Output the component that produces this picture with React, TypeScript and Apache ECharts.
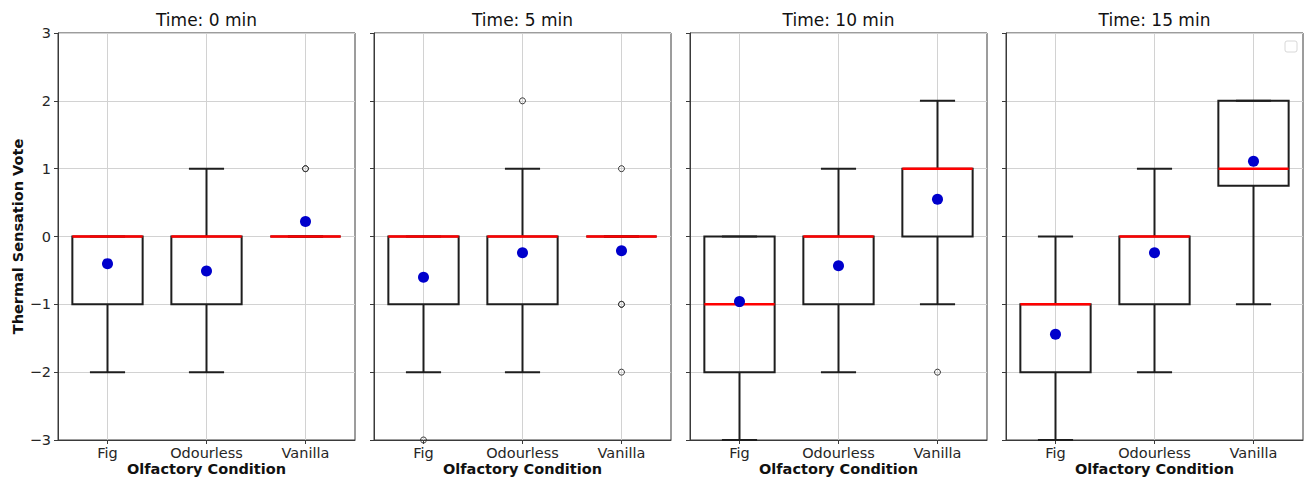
import React, { useEffect, useRef } from "react";
import * as echarts from "echarts";

const categories = ["Fig", "Odourless", "Vanilla"];
const panelTitles = ["Time: 0 min", "Time: 5 min", "Time: 10 min", "Time: 15 min"];
const xAxisTitle = "Olfactory Condition";
const yAxisTitle = "Thermal Sensation Vote";
const yMin = -3;
const yMax = 3;

// [lower whisker, Q1, median, Q3, upper whisker] per category
const box0 = [[-2, -1, 0, 0, 0], [-2, -1, 0, 0, 1], [0, 0, 0, 0, 0]];
const box5 = [[-2, -1, 0, 0, 0], [-2, -1, 0, 0, 1], [0, 0, 0, 0, 0]];
const box10 = [[-3, -2, -1, 0, 0], [-2, -1, 0, 0, 1], [-1, 0, 1, 1, 2]];
const box15 = [[-3, -2, -1, -1, 0], [-2, -1, 0, 0, 1], [-1, 0.75, 1, 2, 2]];

const mean0 = [-0.4, -0.51, 0.22];
const mean5 = [-0.6, -0.24, -0.21];
const mean10 = [-0.96, -0.43, 0.55];
const mean15 = [-1.44, -0.24, 1.11];

// [category index, value]
const out0 = [[2, 1], [2, 1]];
const out5 = [[0, -3], [1, 2], [2, 1], [2, -1], [2, -1], [2, -2]];
const out10 = [[2, -2]];
const out15: number[][] = [];

const boxes = [box0, box5, box10, box15];
const means = [mean0, mean5, mean10, mean15];
const outliers = [out0, out5, out10, out15];

const FONT = "DejaVu Sans";
const gridLefts = [58, 374, 690, 1006];
const gridTop = 33;
const gridW = 297;
const gridH = 407;

function fmt(v: number) {
  return v < 0 ? "\u2212" + Math.abs(v) : String(v);
}

function renderBox(params: any, api: any) {
  const idx = api.value(0);
  const lo = api.coord([idx, api.value(1)]);
  const q1 = api.coord([idx, api.value(2)]);
  const med = api.coord([idx, api.value(3)]);
  const q3 = api.coord([idx, api.value(4)]);
  const hi = api.coord([idx, api.value(5)]);
  const x = lo[0];
  const band = api.size([1, 0])[0];
  const bw = band * 0.71;
  const cw = band * 0.355;
  const cs = params.coordSys;
  const stroke = "#1e1e1e";
  const lw = 2;
  return {
    type: "group",
    children: [
      {
        type: "line",
        shape: { x1: x, y1: cs.y, x2: x, y2: cs.y + cs.height },
        style: { stroke: "#d2d2d2", lineWidth: 1 },
      },
      { type: "line", shape: { x1: x, y1: q3[1], x2: x, y2: hi[1] }, style: { stroke, lineWidth: lw } },
      { type: "line", shape: { x1: x, y1: q1[1], x2: x, y2: lo[1] }, style: { stroke, lineWidth: lw } },
      { type: "line", shape: { x1: x - cw / 2, y1: hi[1], x2: x + cw / 2, y2: hi[1] }, style: { stroke, lineWidth: lw } },
      { type: "line", shape: { x1: x - cw / 2, y1: lo[1], x2: x + cw / 2, y2: lo[1] }, style: { stroke, lineWidth: lw } },
      {
        type: "rect",
        shape: { x: x - bw / 2, y: q3[1], width: bw, height: q1[1] - q3[1] },
        style: { fill: "none", stroke, lineWidth: lw },
      },
      {
        type: "line",
        shape: { x1: x - bw / 2, y1: med[1], x2: x + bw / 2, y2: med[1] },
        style: { stroke: "#ff0000", lineWidth: 2.5 },
      },
    ],
  };
}

export default function App() {
  const ref = useRef<HTMLDivElement>(null);
  useEffect(() => {
    if (!ref.current) return;
    const chart = echarts.init(ref.current, undefined, { renderer: "svg" });
    const axisColor = "#3a3a3a";
    const grid = gridLefts.map((l) => ({
      left: l,
      top: gridTop,
      width: gridW,
      height: gridH,
      show: true,
      borderColor: axisColor,
      borderWidth: 1,
      backgroundColor: "transparent",
      containLabel: false,
      outerBoundsMode: "none",
    }));
    const xAxis = gridLefts.map((_, i) => ({
      type: "category",
      gridIndex: i,
      data: categories,
      boundaryGap: true,
      axisLine: { show: true, onZero: false, lineStyle: { color: axisColor } },
      axisTick: { show: true, alignWithLabel: true, length: 4, lineStyle: { color: axisColor } },
      axisLabel: { color: "#262626", fontSize: 14.5, margin: 5, fontFamily: FONT },
      splitLine: { show: false },
    }));
    const yAxis = gridLefts.map((_, i) => ({
      type: "value",
      gridIndex: i,
      min: yMin,
      max: yMax,
      interval: 1,
      axisLine: { show: true, onZero: false, lineStyle: { color: axisColor } },
      axisTick: { show: true, length: 4, lineStyle: { color: axisColor } },
      axisLabel: {
        show: i === 0,
        formatter: fmt,
        margin: 7,
        color: "#262626",
        fontSize: 14.5,
        fontFamily: FONT,
      },
      splitLine: { show: true, lineStyle: { color: "#d2d2d2", width: 1 } },
    }));
    const series: any[] = [];
    boxes.forEach((b, i) => {
      series.push({
        type: "custom",
        xAxisIndex: i,
        yAxisIndex: i,
        renderItem: renderBox,
        encode: { x: 0, y: [1, 2, 3, 4, 5] },
        data: b.map((s, j) => [j, ...s]),
        z: 3,
        silent: true,
      });
      series.push({
        type: "scatter",
        xAxisIndex: i,
        yAxisIndex: i,
        data: outliers[i],
        symbol: "circle",
        symbolSize: 6,
        clip: false,
        itemStyle: { color: "rgba(0,0,0,0)", borderColor: "#3a3a3a", borderWidth: 1, opacity: 1 },
        z: 4,
        silent: true,
      });
      series.push({
        type: "scatter",
        xAxisIndex: i,
        yAxisIndex: i,
        data: means[i].map((m, j) => [j, m]),
        symbol: "circle",
        symbolSize: 11,
        itemStyle: { color: "#0000cc", opacity: 1 },
        z: 5,
        silent: true,
      });
    });
    const graphic: any[] = [];
    panelTitles.forEach((t, i) => {
      const cx = gridLefts[i] + gridW / 2;
      graphic.push({
        type: "text",
        x: cx,
        y: 20,
        style: {
          text: t,
          fill: "#111",
          font: `17px "${FONT}"`,
          textAlign: "center",
          textVerticalAlign: "middle",
        },
      });
      graphic.push({
        type: "text",
        x: cx,
        y: 469,
        style: {
          text: xAxisTitle,
          fill: "#111",
          font: `bold 14.5px "${FONT}"`,
          textAlign: "center",
          textVerticalAlign: "middle",
        },
      });
    });
    graphic.push({
      type: "text",
      x: 18,
      y: gridTop + gridH / 2,
      rotation: Math.PI / 2,
      style: {
        text: yAxisTitle,
        fill: "#111",
        font: `bold 14.5px "${FONT}"`,
        textAlign: "center",
        textVerticalAlign: "middle",
      },
    });
    graphic.push({
      type: "rect",
      shape: { x: 1285, y: 41, width: 12, height: 11, r: 2 },
      style: { fill: "#fff", stroke: "#d8d8d8", lineWidth: 1 },
    });
    chart.setOption({
      animation: false,
      backgroundColor: "#fff",
      grid,
      xAxis,
      yAxis,
      series,
      graphic,
    });
    return () => chart.dispose();
  }, []);
  return (
    <div
      ref={ref}
      style={{ position: "absolute", left: 0, top: 0, width: 1304, height: 478 }}
    />
  );
}
